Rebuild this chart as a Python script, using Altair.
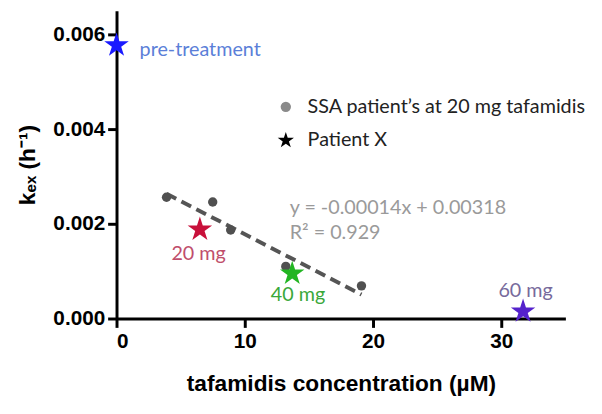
import altair as alt
import pandas as pd

# SSA patients at 20 mg tafamidis
ssa_x = [3.9, 7.5, 8.9, 13.2, 19.1]
ssa_y = [0.00256, 0.00246, 0.00187, 0.00110, 0.00069]

# Patient X
px_label = ["pre-treatment", "20 mg", "40 mg", "60 mg"]
px_x = [0.0, 6.5, 13.7, 31.7]
px_y = [0.00577, 0.00188, 0.00095, 0.00015]
px_color = ["#1a1aff", "#c8103a", "#22b522", "#5522cc"]

# labels for patient X
lab_text = ["pre-treatment", "20 mg", "40 mg", "60 mg"]
lab_x = [1.8, 6.4, 14.15, 31.9]
lab_y = [0.00566, 0.00135, 0.00050, 0.00058]
lab_color = ["#5b7fd8", "#c04e6c", "#3aa83a", "#776a9c"]
lab_align = ["left", "center", "center", "center"]

# regression line
fit_x = [3.9, 19.1]
slope, intercept = -0.00014, 0.00318
eq_text = ["y = -0.00014x + 0.00318", "R² = 0.929"]
eq_x = [13.5, 13.5]
eq_y = [0.00234, 0.00180]

# legend
leg_text = ["SSA patient’s at 20 mg tafamidis", "Patient X"]
leg_x = [13.2, 13.2]
leg_tx = [14.9, 14.9]
leg_y = [0.00447, 0.00376]

STAR = "M0,-1L0.2245,-0.309L0.951,-0.309L0.363,0.118L0.588,0.809L0,0.382L-0.588,0.809L-0.363,0.118L-0.951,-0.309L-0.2245,-0.309Z"

xs = alt.Scale(domain=[0, 35], nice=False)
ys = alt.Scale(domain=[0, 0.0065], nice=False)

xax = alt.Axis(values=[0, 10, 20, 30], format="d", title="tafamidis concentration (µM)")
yax = alt.Axis(values=[0, 0.002, 0.004, 0.006], format=".3f", title="kₑₓ (h⁻¹)")

ssa = pd.DataFrame({"x": ssa_x, "y": ssa_y})
fit = pd.DataFrame({"x": fit_x, "y": [slope * v + intercept for v in fit_x]})
pdf = pd.DataFrame({"label": px_label, "x": px_x, "y": px_y, "c": px_color})
ldf = pd.DataFrame({"t": lab_text, "x": lab_x, "y": lab_y, "c": lab_color, "a": lab_align})
edf = pd.DataFrame({"t": eq_text, "x": eq_x, "y": eq_y})
gdf = pd.DataFrame({"t": leg_text, "x": leg_x, "tx": leg_tx, "y": leg_y})

FONT = "Lato"
FS = 20

line = alt.Chart(fit).mark_line(color="#555555", strokeWidth=4, strokeDash=[11, 6]).encode(
    x=alt.X("x:Q", scale=xs, axis=xax), y=alt.Y("y:Q", scale=ys, axis=yax))

dots = alt.Chart(ssa).mark_point(shape="circle", filled=True, size=90, color="#505050", opacity=1).encode(
    x=alt.X("x:Q", scale=xs), y=alt.Y("y:Q", scale=ys))

stars = alt.Chart(pdf).mark_point(shape=STAR, filled=True, size=680, opacity=1).encode(
    x=alt.X("x:Q", scale=xs), y=alt.Y("y:Q", scale=ys),
    color=alt.Color("c:N", scale=None))

labs = []
for al in ["left", "center"]:
    labs.append(alt.Chart(ldf[ldf.a == al]).mark_text(align=al, baseline="middle", font=FONT, fontSize=FS).encode(
        x=alt.X("x:Q", scale=xs), y=alt.Y("y:Q", scale=ys), text="t:N",
        color=alt.Color("c:N", scale=None)))

eq = alt.Chart(edf).mark_text(align="left", baseline="middle", font=FONT, fontSize=FS, color="#9a9a9a").encode(
    x=alt.X("x:Q", scale=xs), y=alt.Y("y:Q", scale=ys), text="t:N")

leg_dot = alt.Chart(gdf.iloc[[0]]).mark_point(shape="circle", filled=True, size=110, color="#8a8a8a", opacity=1).encode(
    x=alt.X("x:Q", scale=xs), y=alt.Y("y:Q", scale=ys))
leg_star = alt.Chart(gdf.iloc[[1]]).mark_point(shape=STAR, filled=True, size=300, color="black", opacity=1).encode(
    x=alt.X("x:Q", scale=xs), y=alt.Y("y:Q", scale=ys))
leg_txt = alt.Chart(gdf).mark_text(align="left", baseline="middle", font=FONT, fontSize=FS, color="#222222").encode(
    x=alt.X("tx:Q", scale=xs), y=alt.Y("y:Q", scale=ys), text="t:N")

chart = alt.layer(line, dots, stars, *labs, eq, leg_dot, leg_star, leg_txt).properties(
    width=455, height=312,
    autosize=alt.AutoSizeParams(type="none"),
    padding={"left": 110, "top": 0, "right": 29, "bottom": 90},
).configure_view(stroke=None).configure_axis(
    grid=False, domainColor="black", domainWidth=3, tickColor="black", tickWidth=3, tickSize=9,
    labelFont="Liberation Sans", labelFontWeight="bold", labelFontSize=21, labelColor="black",
    titleFont="Liberation Sans", titleFontWeight="bold", titleFontSize=23, titleColor="black",
    labelPadding=3,
).configure_axisX(titlePadding=22).configure_axisY(titlePadding=14)

chart.save("out.html", embed_options={"renderer": "svg", "actions": False})
